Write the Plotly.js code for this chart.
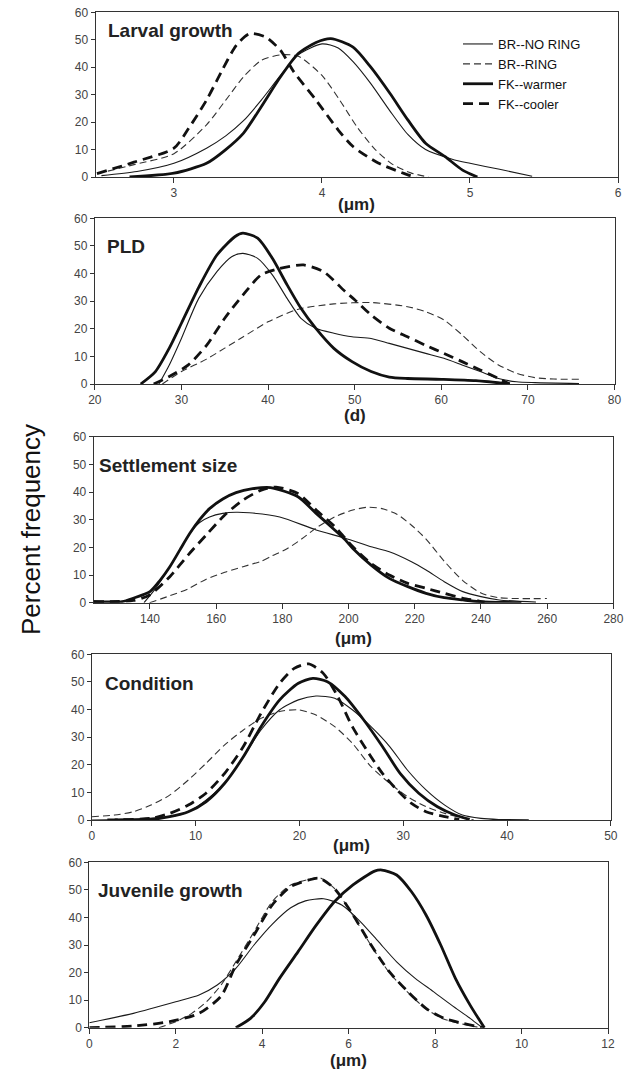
<!DOCTYPE html>
<html>
<head>
<meta charset="utf-8">
<script src="https://cdn.plot.ly/plotly-3.0.1.min.js"></script>
<style>
  html, body { margin: 0; padding: 0; background: #ffffff; }
  #chart { width: 633px; height: 1073px; }
</style>
</head>
<body>
<div id="chart"></div>
<script>
// ---------------- DATA ----------------
const seriesNames = ["BR--NO RING", "BR--RING", "FK--warmer", "FK--cooler"];
const panelLabels = ["Larval growth", "PLD", "Settlement size", "Condition", "Juvenile growth"];
const axisUnits = ["(\u03bcm)", "(d)", "(\u03bcm)", "(\u03bcm)", "(\u03bcm)"];
const yTickValues = [0, 10, 20, 30, 40, 50, 60];

// Panel 1: Larval growth (µm)
const larvalNoRingX = [2.51, 2.75, 3.0, 3.22, 3.35, 3.47, 3.59, 3.72, 3.84, 4.0, 4.11, 4.21, 4.33, 4.46, 4.58, 4.70, 4.88, 5.0, 5.2, 5.42];
const larvalNoRingY = [0.5, 2, 5, 10.5, 15, 20.5, 28, 37, 44.5, 48.5, 47, 42, 34, 24, 15.5, 10, 6.5, 5, 2.8, 0.3];
const larvalRingX = [2.48, 2.73, 3.0, 3.22, 3.35, 3.47, 3.59, 3.72, 3.84, 4.0, 4.12, 4.24, 4.36, 4.48, 4.6, 4.72];
const larvalRingY = [1.2, 4.5, 8.5, 19, 28, 36.5, 42.5, 44.5, 44, 37, 28, 18, 10, 4.5, 1.5, 0];
const larvalWarmX = [2.7, 3.0, 3.22, 3.35, 3.47, 3.59, 3.72, 3.84, 3.96, 4.06, 4.21, 4.33, 4.46, 4.58, 4.70, 4.83, 4.95, 5.05];
const larvalWarmY = [0, 1.4, 5, 10, 16, 25.6, 36.5, 45, 49, 50.4, 47.3, 40, 30.4, 20.8, 12.3, 7.5, 2.5, 0];
const larvalCoolX = [2.48, 2.73, 3.0, 3.1, 3.22, 3.32, 3.42, 3.51, 3.62, 3.72, 3.81, 3.96, 4.11, 4.21, 4.38, 4.58, 4.64];
const larvalCoolY = [1.2, 5.4, 10.5, 17.8, 28, 38.3, 47.9, 52.2, 51, 46.1, 38.3, 28, 17.1, 11.1, 5.1, 0.8, 0];

// Panel 2: PLD (d)
const pldNoRingX = [27.4, 28.6, 30, 32, 34.1, 35.8, 37.1, 38.8, 40.5, 42.2, 43.8, 45.5, 47.6, 49.7, 51.9, 54, 56.1, 58.2, 60.3, 62.4, 64.5, 66.6, 68.7, 70.8, 75.9];
const pldNoRingY = [0, 6.9, 16.5, 31, 40.7, 46.1, 47.3, 45.5, 39.5, 31, 23.8, 20.2, 18.4, 17.1, 16.5, 14.7, 12.9, 11.1, 9.3, 6.9, 4.5, 2, 0.8, 0.5, 0.2];
const pldRingX = [27.8, 30, 32.9, 35, 37.1, 40, 43.4, 47.6, 51.9, 56.1, 58.2, 60.3, 62.4, 64.5, 66.6, 68.7, 70.8, 73, 75.9];
const pldRingY = [0, 4.5, 9, 13, 17, 22.5, 27, 29, 29.5, 28, 26.2, 23.2, 17.8, 11.7, 6.9, 3.9, 2.3, 1.8, 1.7];
const pldWarmX = [25.3, 27, 28.6, 30, 32, 34.1, 36.2, 37.1, 38.8, 40.5, 42.2, 43.8, 45.5, 47.6, 49.7, 51.9, 54, 56.1, 60, 64, 67.9];
const pldWarmY = [0, 4.5, 13, 22, 35, 46.7, 53.4, 54.6, 52.8, 45.5, 35.9, 27.4, 20.2, 12.9, 8.1, 4.5, 2.5, 2, 1.7, 1.2, 0];
const pldCoolX = [26.8, 28.6, 30.8, 32.9, 35, 37.1, 39.2, 41.3, 44.1, 46.4, 48.9, 50, 51.9, 54, 56.1, 58.2, 60.3, 62.4, 64.5, 66.6, 67.9];
const pldCoolY = [0, 2.7, 6.9, 14, 23.8, 32.2, 39.5, 41.8, 43.1, 40.7, 33.5, 30.5, 25, 20.2, 17.1, 14, 11.1, 8.1, 5.1, 2, 0];

// Panel 3: Settlement size (µm)
const settleNoRingX = [138.2, 141.6, 146, 149, 152, 155, 158, 162, 166, 170, 179.2, 190.2, 199, 206.8, 212.3, 219, 223.4, 228.9, 234.5, 240, 245.5, 256.6];
const settleNoRingY = [0, 5, 13, 19, 25, 29, 31, 32.3, 32.7, 32.5, 31, 26.3, 23.3, 20.2, 18.4, 14.8, 11.8, 7.6, 4, 2.2, 1, 0.2];
const settleRingX = [139.9, 146, 151.5, 157, 162.6, 168.1, 173.6, 177, 181.4, 185.8, 190.2, 195.8, 201.3, 205.7, 210.1, 214.6, 219, 223.4, 228.9, 234.5, 240, 245.5, 259.9];
const settleRingY = [0, 2.5, 5, 8.5, 11, 13, 15, 17, 19.5, 23, 27, 31, 33.5, 34.5, 34, 32, 28, 23, 15, 8, 3.5, 1.8, 1.5];
const settleWarmX = [123, 131.6, 134.9, 140, 143, 146, 149, 152, 155, 158, 162, 166, 171, 176.4, 184.7, 190.2, 195.8, 199, 201.3, 206.8, 212.3, 217.9, 223.4, 228.9, 234.5, 239.4, 252.2];
const settleWarmY = [0.4, 0.4, 1.6, 4, 8, 13, 19, 25, 30, 34, 37.5, 39.8, 41.2, 41.6, 38.3, 32.3, 26.3, 22.7, 19.6, 13.6, 8.8, 5.8, 3.4, 1.8, 1, 0.4, 0];
const settleCoolX = [123, 135, 139.9, 146, 151.5, 157, 162.6, 168.1, 173.6, 178.1, 184.7, 190.2, 195.8, 201.3, 206.8, 212.3, 217.9, 223.4, 228.9, 234.5, 239.4, 241.1];
const settleCoolY = [0.4, 0.8, 2.8, 9.4, 17.2, 24.5, 31.7, 37.1, 40.7, 41.8, 39.5, 33.5, 27.5, 20.2, 14.2, 10, 7, 5.2, 3.4, 1.6, 0.6, 0.2];

// Panel 4: Condition (µm)
const condNoRingX = [0, 7.5, 9.3, 11.0, 12.8, 14.6, 16.3, 18.1, 19.9, 21.6, 23.4, 25.1, 26.9, 28.7, 30.4, 32.2, 34.0, 35.7, 37.5, 39.2, 42.1];
const condNoRingY = [0, 1.2, 3, 7.2, 13.3, 22.9, 32.6, 39.9, 43.5, 44.9, 44.1, 39.9, 33.8, 26.6, 18.1, 10.9, 5.4, 1.8, 0.6, 0.2, 0.1];
const condRingX = [0, 2.2, 4.0, 5.7, 7.5, 9.3, 11.0, 12.8, 14.6, 16.3, 18.1, 19.9, 21.6, 23.4, 25.1, 26.9, 28.7, 30.4, 32.2, 34.0, 35.7, 36.8];
const condRingY = [1.2, 1.8, 3, 5.4, 9, 14.5, 20.5, 27.2, 32.6, 36.8, 39.3, 39.9, 38, 33.8, 27.8, 19.3, 13.3, 8.5, 4.8, 2.4, 0.8, 0];
const condWarmX = [2.2, 5.7, 7.5, 9.3, 11.0, 12.8, 14.6, 16.3, 18.1, 19.9, 21.3, 22.7, 24.4, 26.2, 28.0, 29.7, 31.5, 33.3, 35.0, 36.4];
const condWarmY = [0, 0.2, 1.2, 3, 6.6, 13.3, 22.9, 33.8, 43.5, 49.5, 51.3, 50.1, 44.7, 36.2, 26.6, 16.9, 9.7, 4.8, 1.8, 0.2];
const condCoolX = [1.5, 5.7, 7.5, 9.3, 11.0, 12.8, 14.6, 16.3, 18.1, 19.5, 20.9, 22.3, 23.7, 25.1, 26.9, 28.0, 29.4, 30.8, 32.2, 34.0, 35.4];
const condCoolY = [0, 0.6, 2.4, 5.4, 9.7, 16.9, 26.6, 38.6, 49.5, 54.9, 56.5, 53.1, 44.7, 33.8, 22.9, 16.9, 10.9, 6, 3, 1.2, 0.2];

// Panel 5: Juvenile growth (µm)
const juvNoRingX = [0, 1.02, 2.0, 2.54, 2.96, 3.39, 3.81, 4.23, 4.66, 5.0, 5.42, 5.84, 6.27, 6.69, 7.11, 7.54, 7.96, 8.38, 8.81, 9.06];
const juvNoRingY = [1.8, 5.2, 9.4, 11.9, 15.5, 21.5, 30, 37.5, 43.5, 46, 46.8, 44.5, 38.5, 31.2, 23.9, 17.9, 13.1, 8.2, 3.4, 0.4];
const juvRingX = [1.61, 2.0, 2.37, 2.71, 3.05, 3.39, 3.81, 4.23, 4.66, 5.08, 5.33, 5.67, 6.1, 6.52, 6.94, 7.37, 7.79, 8.21, 8.64, 8.98];
const juvRingY = [0, 2.2, 5.2, 9.4, 15.5, 23.9, 34.8, 45.7, 51.8, 53.8, 54.4, 50.5, 40.7, 29.8, 20, 12.8, 6.8, 3.1, 1.3, 0.2];
const juvWarmX = [3.39, 3.73, 4.06, 4.4, 4.83, 5.25, 5.67, 6.1, 6.6, 6.77, 7.11, 7.45, 7.79, 8.13, 8.47, 8.81, 9.14];
const juvWarmY = [0, 3.4, 9.4, 17.9, 27.6, 37.2, 45.7, 51.8, 56.8, 57.2, 55.4, 49.4, 40.9, 30, 17.9, 8.2, 0];
const juvCoolX = [0, 1.02, 1.86, 2.54, 3.05, 3.39, 3.81, 4.23, 4.66, 5.08, 5.33, 5.67, 6.1, 6.52, 6.94, 7.37, 7.79, 8.21, 8.64, 8.98, 9.14];
const juvCoolY = [0, 0.6, 2.2, 5.2, 11.5, 22.7, 33.6, 44.5, 51.2, 53.6, 54.2, 50.5, 40.9, 30, 20.3, 13.1, 7, 3.4, 1.6, 0.4, 0];

// x-axis ranges and tick steps
const xRanges = [[2.47, 6], [20, 80], [123, 280], [0, 50], [0, 12]];
const xSteps = [1, 10, 20, 10, 2];

const panelSeries = [
  [[larvalNoRingX, larvalNoRingY], [larvalRingX, larvalRingY], [larvalWarmX, larvalWarmY], [larvalCoolX, larvalCoolY]],
  [[pldNoRingX, pldNoRingY], [pldRingX, pldRingY], [pldWarmX, pldWarmY], [pldCoolX, pldCoolY]],
  [[settleNoRingX, settleNoRingY], [settleRingX, settleRingY], [settleWarmX, settleWarmY], [settleCoolX, settleCoolY]],
  [[condNoRingX, condNoRingY], [condRingX, condRingY], [condWarmX, condWarmY], [condCoolX, condCoolY]],
  [[juvNoRingX, juvNoRingY], [juvRingX, juvRingY], [juvWarmX, juvWarmY], [juvCoolX, juvCoolY]]
];

// ---------------- LAYOUT / STYLE ----------------
const W = 633, H = 1073;
// plot boxes in pixels: [left, right, top, bottom]
const boxes = [
  [95.5, 618, 12.3, 177],
  [94.8, 614.5, 218.3, 384],
  [93.7, 613.4, 436.7, 602.7],
  [91.8, 610.8, 654.3, 820],
  [89.3, 608, 862.3, 1027.7]
];
const labelPos = [[106, 30], [105, 247], [97, 465], [103, 683], [96, 890]];
const unitY = [205, 415, 638, 845, 1060];

const lineStyles = [
  {color: "#1a1a1a", width: 1.1, dash: "solid"},
  {color: "#333", width: 1.1, dash: "7px,4px"},
  {color: "#111", width: 2.8, dash: "solid"},
  {color: "#111", width: 2.8, dash: "10px,6px"}
];

const px2x = p => p / W;
const px2y = p => 1 - p / H;

const traces = [];
const layout = {
  width: W, height: H,
  margin: {l: 0, r: 0, t: 0, b: 0},
  paper_bgcolor: "#ffffff",
  plot_bgcolor: "#ffffff",
  font: {family: "Liberation Sans, Arial, sans-serif", color: "#333"},
  showlegend: true,
  legend: {
    x: px2x(458), y: px2y(29), xanchor: "left", yanchor: "top",
    bgcolor: "rgba(0,0,0,0)", borderwidth: 0,
    font: {size: 13, color: "#111", family: "Liberation Sans, Arial, sans-serif"},
    tracegroupgap: 0
  },
  annotations: []
};

panelSeries.forEach((series, p) => {
  const n = p + 1;
  const xa = "x" + (n === 1 ? "" : n);
  const ya = "y" + (n === 1 ? "" : n);
  const xKey = "xaxis" + (n === 1 ? "" : n);
  const yKey = "yaxis" + (n === 1 ? "" : n);
  const b = boxes[p];
  layout[xKey] = {
    domain: [px2x(b[0]), px2x(b[1])],
    anchor: ya,
    range: xRanges[p],
    tick0: 0, dtick: xSteps[p],
    showgrid: false, zeroline: false,
    showline: true, mirror: true, linecolor: "#333", linewidth: 1,
    ticks: "outside", ticklen: 5, tickwidth: 1, tickcolor: "#333",
    tickfont: {size: 12, color: "#444"}
  };
  layout[yKey] = {
    domain: [px2y(b[3]), px2y(b[2])],
    anchor: xa,
    range: [0, 60],
    tickvals: yTickValues,
    showgrid: false, zeroline: false,
    showline: true, mirror: true, linecolor: "#333", linewidth: 1,
    ticks: "outside", ticklen: 4, tickwidth: 1, tickcolor: "#333",
    tickfont: {size: 12, color: "#444"}
  };
  series.forEach((s, k) => {
    traces.push({
      type: "scatter", mode: "lines",
      x: s[0], y: s[1],
      xaxis: xa, yaxis: ya,
      name: seriesNames[k],
      showlegend: p === 0,
      line: Object.assign({shape: "spline", smoothing: 0.7}, lineStyles[k]),
      hoverinfo: "x+y+name"
    });
  });
  layout.annotations.push({
    text: "<b>" + panelLabels[p] + "</b>",
    xref: "paper", yref: "paper",
    x: px2x(labelPos[p][0]), y: px2y(labelPos[p][1]),
    xanchor: "left", yanchor: "middle", showarrow: false,
    font: {size: 19, color: "#222"}
  });
  layout.annotations.push({
    text: "<b>" + axisUnits[p] + "</b>",
    xref: "paper", yref: "paper",
    x: px2x((b[0] + b[1]) / 2), y: px2y(unitY[p]),
    xanchor: "center", yanchor: "middle", showarrow: false,
    font: {size: 17, color: "#222"}
  });
});

layout.annotations.push({
  text: "Percent frequency",
  xref: "paper", yref: "paper",
  x: px2x(31), y: px2y(530),
  xanchor: "center", yanchor: "middle", showarrow: false,
  textangle: -90,
  font: {size: 26, color: "#111"}
});

Plotly.newPlot("chart", traces, layout, {displayModeBar: false, staticPlot: true});
</script>
</body>
</html>
